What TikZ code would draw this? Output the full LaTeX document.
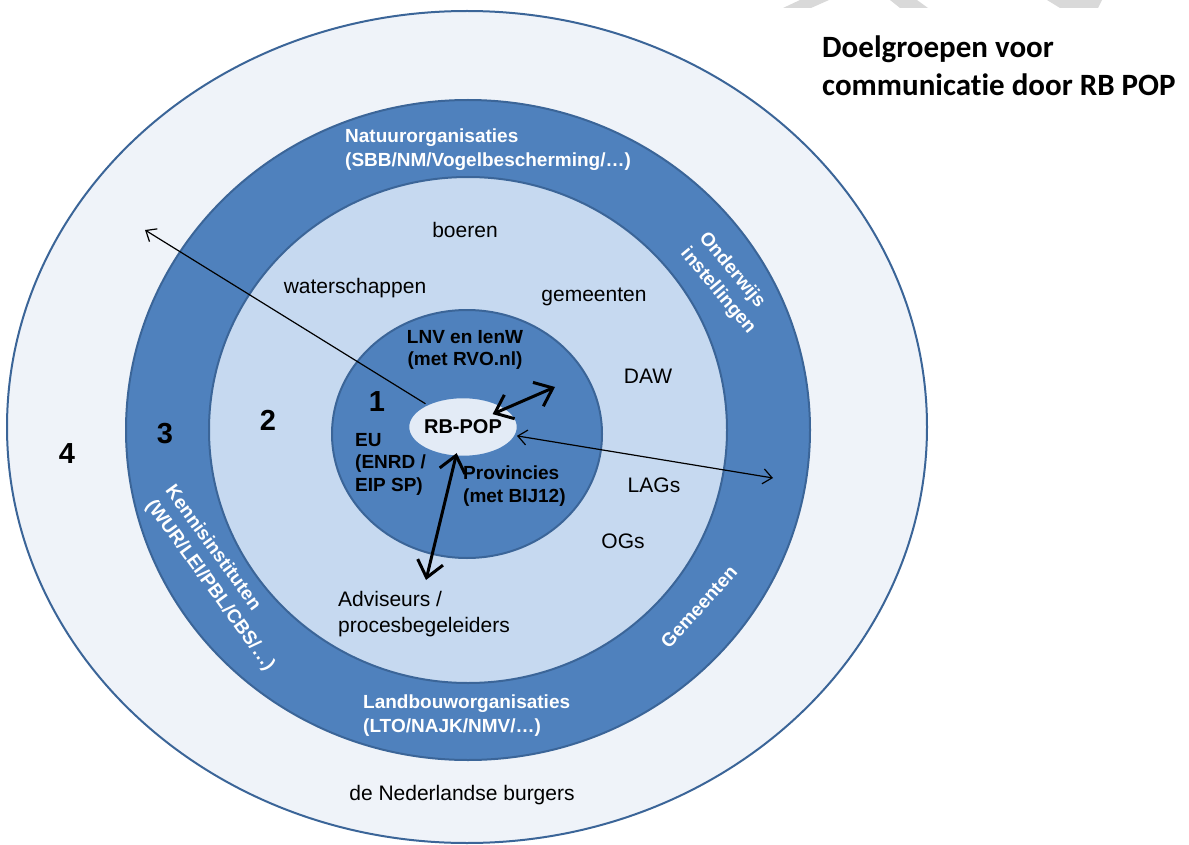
\documentclass[tikz,border=0pt]{standalone}
\usepackage{fontspec}
\setmainfont{Liberation Sans}
\newfontfamily\titlefont[Ligatures=NoCommon]{Carlito}
\usetikzlibrary{shapes.geometric,arrows.meta}

\definecolor{ringline}{HTML}{3B6598}
\definecolor{bandblue}{HTML}{4F81BD}
\definecolor{ringlight}{HTML}{C6D9F0}
\definecolor{outerfill}{HTML}{EFF3F9}
\definecolor{popfill}{HTML}{E3EBF6}
\definecolor{markgray}{HTML}{D9D9D9}

\begin{document}
\begin{tikzpicture}[x=1pt, y=-1pt,
    ring/.style ={ellipse, draw=ringline, line width=2pt, inner sep=0pt},
    pop/.style ={ellipse, draw=bandblue, line width=2.5pt, fill=popfill, inner sep=0pt,
        minimum width=106pt, minimum height=60pt, font=\bfseries\fontsize{20}{24}\selectfont},
    group/.style ={inner sep=0pt, align=left, font=\fontsize{21}{26}\selectfont},
    inner/.style ={inner sep=0pt, align=left, font=\bfseries\fontsize{19}{22.5}\selectfont},
    band/.style ={inner sep=0pt, align=left, text=white, font=\bfseries\fontsize{19}{24}\selectfont},
    level/.style ={inner sep=0pt, font=\bfseries\fontsize{29}{32}\selectfont},
    link/.style ={line width=1.2pt, >={Straight Barb[length=9pt,width=15pt]}},
    strong/.style ={line width=3pt, >={Straight Barb[length=16pt,width=26pt]}}]
   \useasboundingbox (0,0) rectangle (1189,845);

   \fill[markgray] (800,0) -- (829,0) -- (811,8) -- (783,8) -- cycle;
   \fill[markgray] (890,0) -- (917,0) -- (928,8) -- (900,8) -- cycle;
   \fill[markgray] (1047,0) -- (1102,0) -- (1098,8) -- (1060,8) -- cycle;

   \node[ring, fill=outerfill, minimum width=920pt, minimum height=832pt] (R4) at (467,427) {};
   \node[ring, fill=bandblue, minimum width=684pt, minimum height=660pt] (R3) at (468,430) {};
   \node[ring, fill=ringlight, minimum width=518pt, minimum height=506pt] (R2) at (468,430) {};
   \node[ring, fill=bandblue, minimum width=270pt, minimum height=248pt] (R1) at (467,434) {};
   \node[pop] (rbpop) at (463,427) {RB-POP};

   \node[anchor=west, inner sep=0pt, align=left,
       font=\titlefont\bfseries\fontsize{31}{38}\selectfont] (title) at (822,66)
       {Doelgroepen voor\\communicatie door RB POP};

   \node[level] (L4) at (67,454) {4};
   \node[level] (L3) at (165,434) {3};
   \node[level] (L2) at (268,420) {2};
   \node[level] (L1) at (377,402) {1};

   \node[inner, align=center] (lnv) at (465,350) {LNV en IenW\\(met RVO.nl)};
   \node[inner, anchor=west] (eu) at (355,464) {EU\\(ENRD /\\EIP SP)};
   \node[inner, anchor=west] (prov) at (463,486) {Provincies\\(met BIJ12)};

   \node[group] (boeren) at (465,230) {boeren};
   \node[group] (water) at (355,288) {waterschappen};
   \node[group] (gemeenten) at (594,297) {gemeenten};
   \node[group] (daw) at (648,376) {DAW};
   \node[group] (lags) at (654,485) {LAGs};
   \node[group] (ogs) at (623,541) {OGs};
   \node[group, anchor=west] (adviseurs) at (338,614) {Adviseurs /\\procesbegeleiders};
   \node[group] (burgers) at (462,795) {de Nederlandse burgers};

   \node[band, anchor=west] (natuur) at (345,150) {Natuurorganisaties\\(SBB/NM/Vogelbescherming/…)};
   \node[band, anchor=west] (landbouw) at (363,716) {Landbouworganisaties\\(LTO/NAJK/NMV/…)};
   \node[band, anchor=west, rotate=-50] (onderwijs) at (693,243) {Onderwijs\\instellingen};
   \node[band, rotate=48] (gemband) at (699,607) {Gemeenten};
   \node[band, anchor=west, rotate=-54] (kennis) at (159,495) {Kennisinstituten\\(WUR/LEI/PBL/CBS/…)};

   \coordinate (farleft) at (145,230);
   \coordinate (farright) at (773,478);
   \coordinate (lnvend) at (555,387);
   \coordinate (advend) at (426,580);

   \draw[link, ->] (rbpop) to (farleft);
   \draw[link, <->] (rbpop) to (farright);
   \draw[strong, <->, shorten <=-16pt] (rbpop) to (lnvend);
   \draw[strong, <->, shorten <=-5pt] (rbpop) to (advend);

 \end{tikzpicture}
\end{document}
